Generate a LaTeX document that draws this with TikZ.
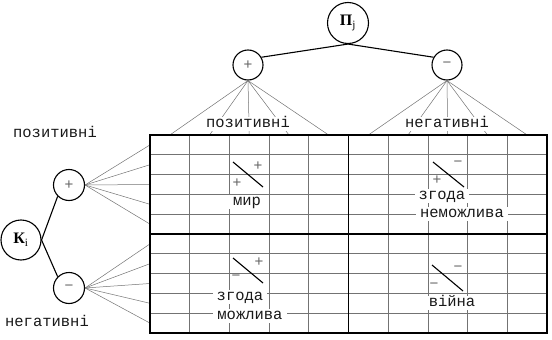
\documentclass[tikz,border=0pt]{standalone}
\usepackage{fontspec}
\setmainfont{Liberation Serif}
\newfontfamily\monof{Liberation Mono}
\newfontfamily\sansf{Liberation Sans}
\begin{document}
\begin{tikzpicture}[x=1pt,y=-1pt,
  circ/.style={circle,draw,line width=1.1pt,inner sep=0pt,minimum size=30pt},
  big/.style={circ,minimum size=41pt,font=\fontsize{16}{16}\selectfont},
  sign/.style={font=\sansf\fontsize{15}{15}\selectfont,text=black!60,inner sep=0pt},
  lbl/.style={font=\monof\fontsize{15.5}{15}\selectfont,text=black!90,inner sep=1pt},
  wlbl/.style={lbl,fill=white,inner xsep=4pt,inner ysep=1pt,text height=9pt,text depth=3pt},
  fan/.style={draw=black!55,line width=0.5pt},
  gridthin/.style={draw=black!55,line width=0.8pt},
  gridthick/.style={line width=1.4pt},
  conn/.style={line width=1.1pt},
  slash/.style={line width=1.1pt},
]
\useasboundingbox (0,0) rectangle (552,340);

% circles
\node[big] (P) at (348,23) {{\bfseries П}\textsubscript{j}};
\node[circ,sign] (pt) at (248,65) {+};
\node[circ,sign] (mt) at (447,65) {−};
\node[big,minimum size=40pt] (K) at (21,240) {{\bfseries К}\textsubscript{i}};
\node[circ,sign,minimum size=31pt] (pl) at (69,185) {+};
\node[circ,sign,minimum size=31pt] (ml) at (69,288) {−};

% grid thin lines
\foreach \i in {1,...,9} {
  \draw[gridthin] ({150+39.7*\i},135) -- ({150+39.7*\i},333);
  \draw[gridthin] (150,{135+19.8*\i}) -- (547,{135+19.8*\i});
}

% fan coordinates
\foreach \i in {0,...,4} {
  \coordinate (tl\i) at ({169.85+39.7*\i},135);
  \coordinate (tr\i) at ({368.35+39.7*\i},135);
  \coordinate (lu\i) at (150,{144.9+19.8*\i});
  \coordinate (ld\i) at (150,{243.9+19.8*\i});
}
\foreach \i in {0,...,4} {
  \draw[fan] (pt.south) -- (tl\i);
  \draw[fan] (mt.south) -- (tr\i);
  \draw[fan] (pl.east) -- (lu\i);
  \draw[fan] (ml.east) -- (ld\i);
}

% grid thick lines
\draw[gridthick] (150,135) rectangle (547,333);
\draw[gridthick] (348.5,135) -- (348.5,333);
\draw[gridthick] (150,234) -- (547,234);

% tree connectors
\draw[conn] (P.south) -- (pt.30);
\draw[conn] (P.south) -- (mt.150);
\draw[conn] (K.east) -- (pl.south west);
\draw[conn] (K.east) -- (ml.north west);

% labels
\node[wlbl] (lp) at (248,124) {позитивні};
\node[wlbl] (ln) at (447,124) {негативні};
\node[lbl] (lpl) at (55,132) {позитивні};
\node[lbl] (lnl) at (47,321) {негативні};
\node[wlbl] (mir) at (247,202) {мир};
\node[wlbl] (zg1) at (442,196) {згода};
\node[wlbl] (nm) at (462,214) {неможлива};
\node[wlbl] (zg2) at (240,297) {згода};
\node[wlbl] (mz) at (250,316) {можлива};
\node[wlbl] (vi) at (452,303) {війна};

% quadrant slashes and signs
\draw[slash] (233,162) -- (263,187);
\node[sign] (s1) at (258,166) {+};
\node[sign] (s2) at (237,183) {+};
\draw[slash] (433,162) -- (464,187);
\node[sign] (s3) at (458,164) {−};
\node[sign] (s4) at (437,180) {+};
\draw[slash] (233,258) -- (263,283);
\node[sign] (s5) at (259,262) {+};
\node[sign] (s6) at (236,278) {−};
\draw[slash] (432,265) -- (463,291);
\node[sign] (s7) at (458,269) {−};
\node[sign] (s8) at (434,286) {−};
\end{tikzpicture}
\end{document}
